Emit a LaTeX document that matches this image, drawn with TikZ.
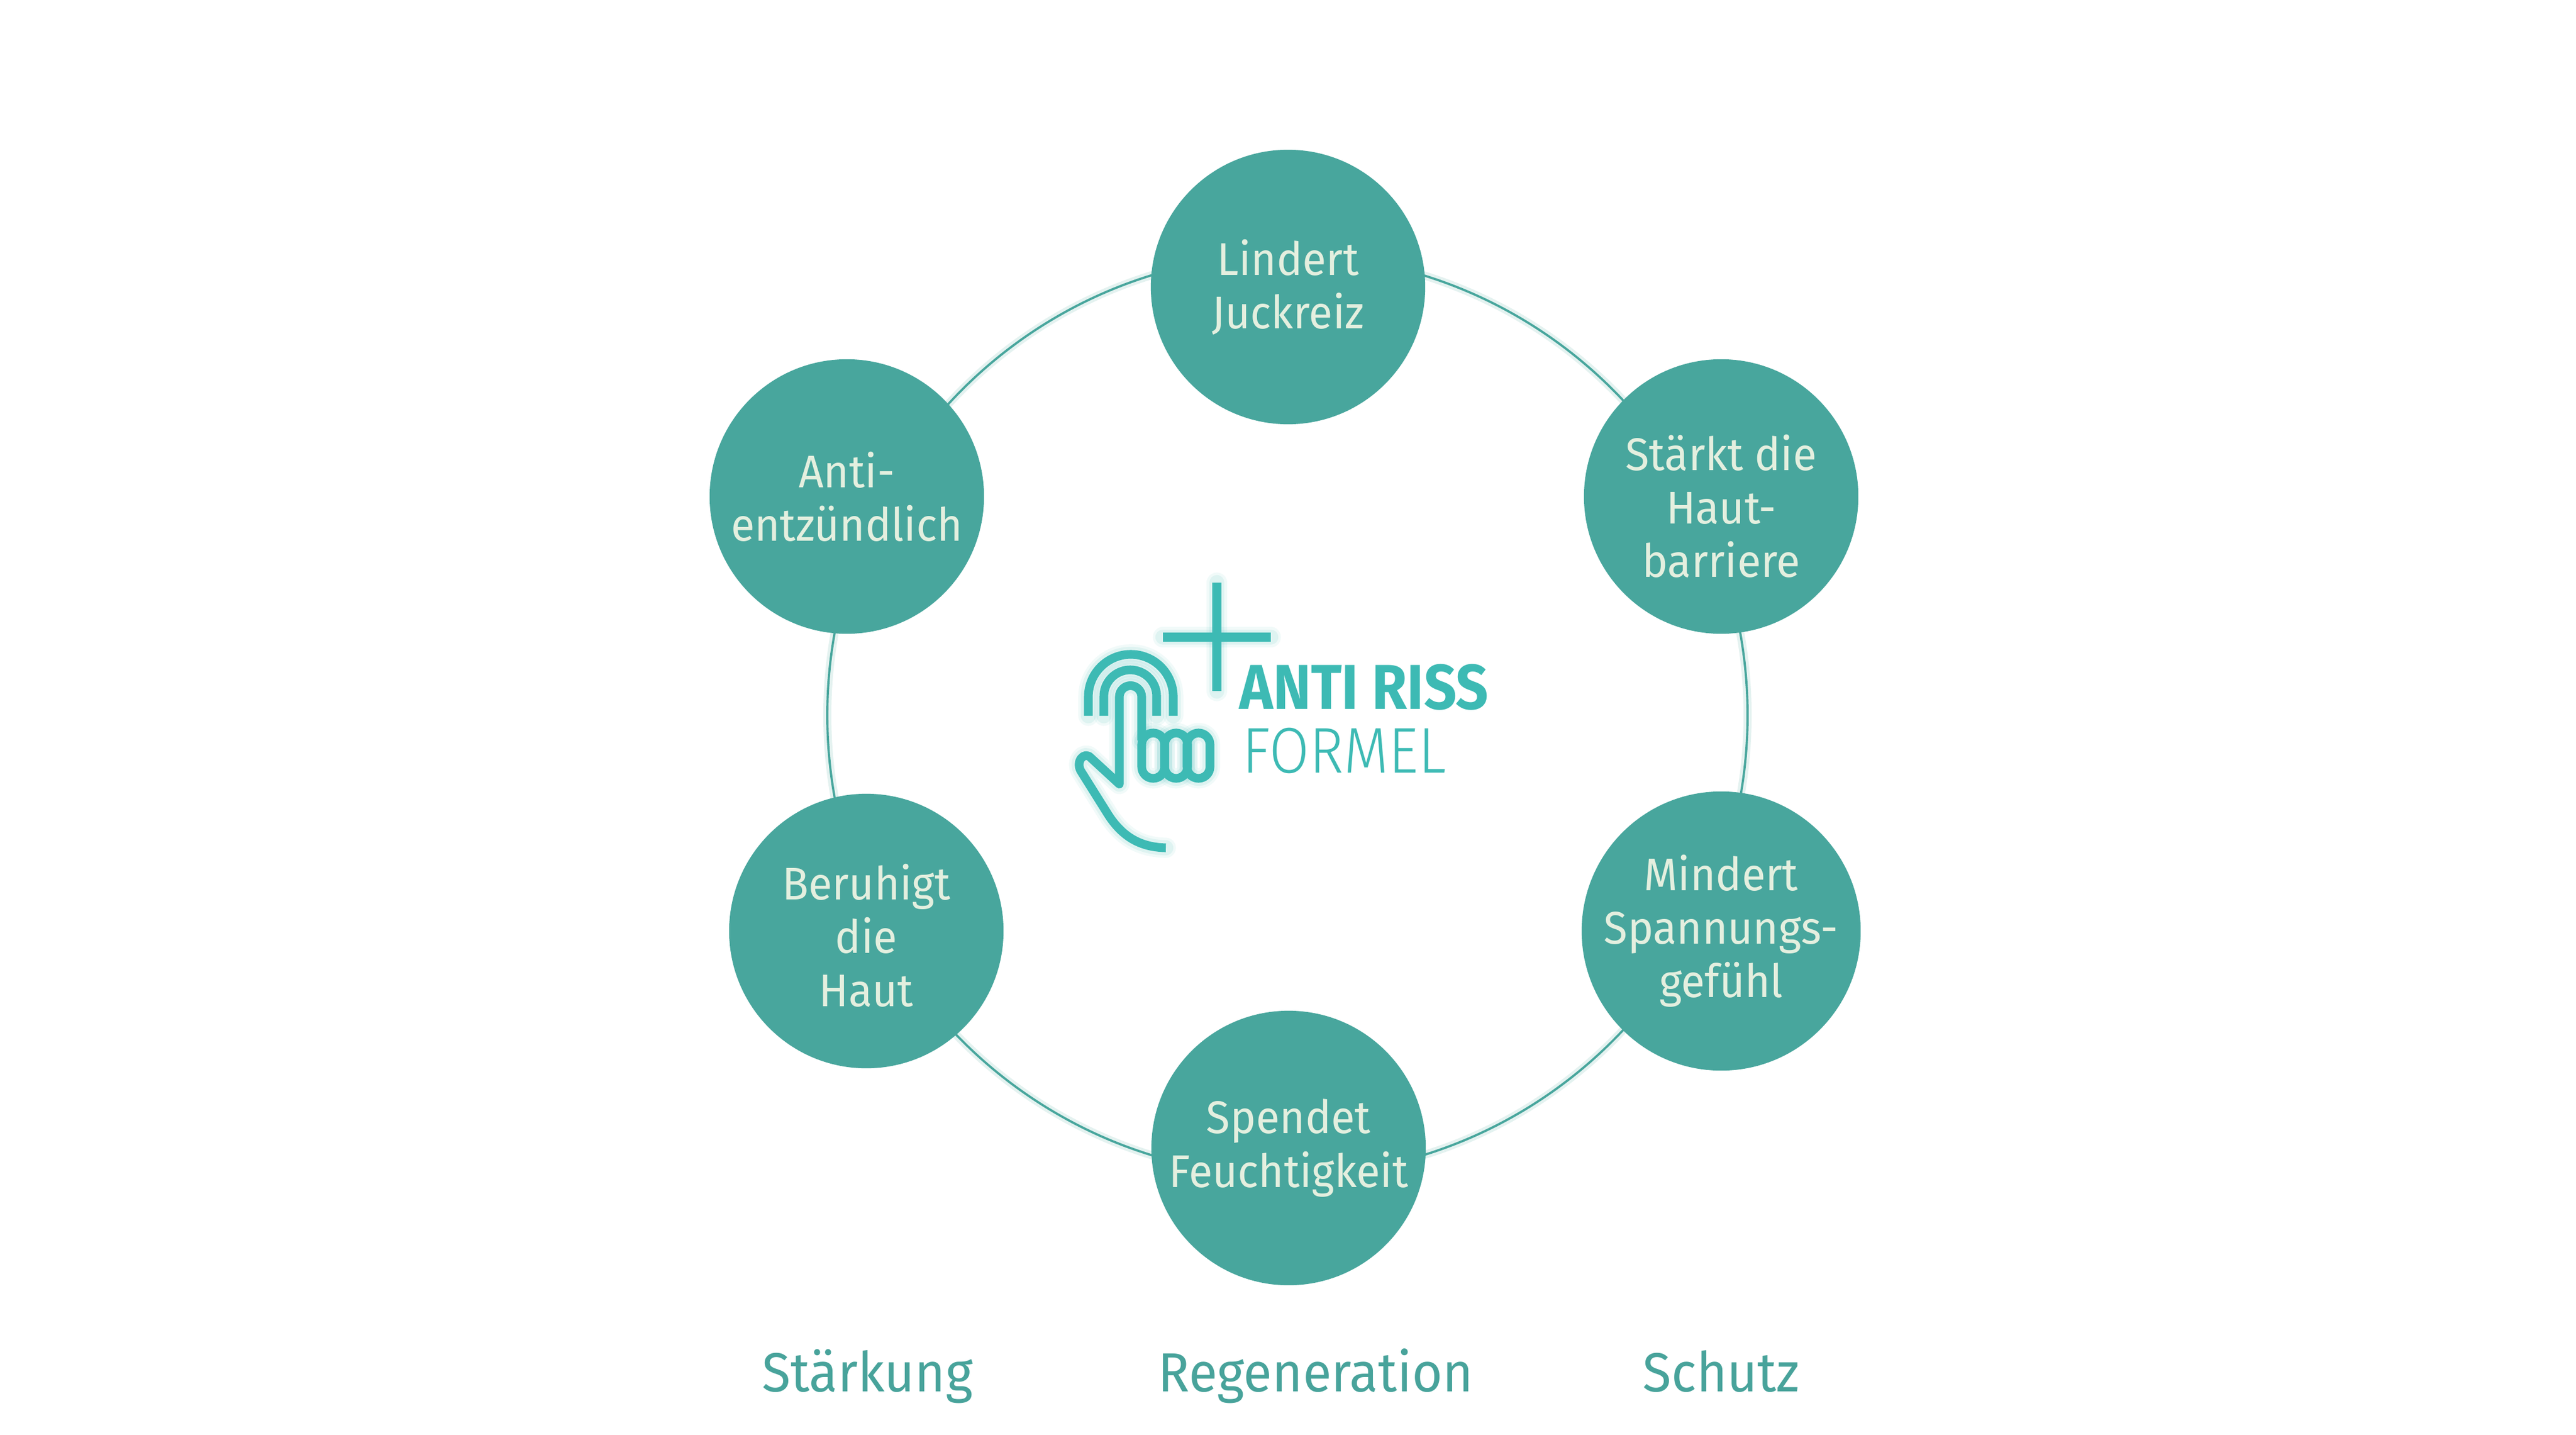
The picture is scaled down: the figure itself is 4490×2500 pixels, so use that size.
\documentclass[tikz,border=0pt]{standalone}
\usepackage{fontspec}
\setmainfont{Fira Sans}
\newfontfamily\circfont{Fira Sans}[FakeStretch=0.95]
\newfontfamily\logobold{Fira Sans}[FakeStretch=0.9]
\newfontfamily\logolight{Fira Sans Light}[FakeStretch=0.9]
\definecolor{teal1}{HTML}{48A69D}
\definecolor{creamtxt}{HTML}{E4EFDF}
\definecolor{logoc}{HTML}{3DBAB4}
\definecolor{labelc}{HTML}{48A39B}
\tikzset{
  bubble/.style={circle, fill=teal1, minimum size=4.78cm, inner sep=0pt, text=creamtxt, align=center,
    font=\circfont\fontsize{22.7}{26.5}\selectfont},
  bubbletext/.style={inner sep=0pt, text=creamtxt, align=center,
    font=\circfont\fontsize{22.7}{26.5}\selectfont},
  grouplabel/.style={text=labelc, anchor=base, inner sep=0pt, font=\circfont\fontsize{27.3}{32}\selectfont},
  logoline/.style={draw=logoc, line width=4.3pt, line cap=butt, line join=round},
  glowa/.style={draw=logoc, draw opacity=0.07, line width=10pt, line cap=round, line join=round},
  glowb/.style={draw=logoc, draw opacity=0.10, line width=7.5pt, line cap=round, line join=round},
  ringglow/.style={draw=teal1!15, line width=4pt},
  ring/.style={draw=teal1, line width=1.1pt}
}
\begin{document}
\begin{tikzpicture}[x=0.01cm, y=-0.01cm]
\useasboundingbox[fill=white] (0,0) rectangle (4490,2500);
% ring
\coordinate (ringc) at (2244,1246);
\draw[ringglow] (ringc) circle[radius=802];
\draw[ring] (ringc) circle[radius=802];
% bubbles
\node[bubble] (lindert) at (2245,500) {Lindert\\Juckreiz};
\node[bubble] (staerkt) at (3000,865) {};
\node[bubbletext] (staerkttext) at ([yshift=-0.17cm]staerkt.center) {Stärkt die\\Haut-\\barriere};
\node[bubble] (mindert) at (3000,1622) {Mindert\\Spannungs-\\gefühl};
\node[bubble] (spendet) at (2246,2000) {Spendet\\Feuchtigkeit};
\node[bubble] (beruhigt) at (1510,1622) {};
\node[bubbletext] (beruhigttext) at ([yshift=-0.08cm]beruhigt.center) {Beruhigt\\die\\Haut};
\node[bubble] (anti) at (1476,865) {Anti-\\entzündlich};
% group labels
\node[grouplabel] (staerkung) at (1512,2424) {Stärkung};
\node[grouplabel] (regen) at (2293,2424) {Regeneration};
\node[grouplabel] (schutz) at (3000,2424) {Schutz};
% logo
\foreach \sty in {glowa,glowb,logoline}{
  % plus
  \draw[\sty] (2121,1015) -- (2121,1204);
  \draw[\sty] (2027,1110) -- (2215,1110);
  % fingerprint arcs
  \draw[\sty] (1897,1247) -- (1897,1214) arc[start angle=180,end angle=360,radius=74] -- (2045,1247);
  \draw[\sty] (1924,1247) -- (1924,1213) arc[start angle=180,end angle=360,radius=46] -- (2016,1247);
  % finger and thumb
  \draw[\sty] (2032,1477) .. controls (1990,1476) and (1958,1460) .. (1932,1420)
     -- (1885,1345) .. controls (1873,1327) and (1890,1308) .. (1901,1320)
     -- (1951,1366) -- (1951,1214) arc[start angle=180,end angle=360,radius=19.5] -- (1990,1290);
  % knuckles
  \foreach \kx in {2010,2050,2089}{
    \draw[\sty] (\kx-20,1297) arc[start angle=180,end angle=360,radius=20] -- (\kx+20,1336)
      arc[start angle=0,end angle=180,radius=20] -- cycle;
  }
}
\node[anchor=base west, inner sep=0pt, text=logoc, font=\logobold\bfseries\fontsize{31.4}{36}\selectfont] (antiriss) at (2160,1235) {ANTI RISS};
\node[anchor=base west, inner sep=0pt, text=logoc, font=\logolight\fontsize{32}{36}\selectfont] (formel) at (2165,1346) {FORMEL};
\end{tikzpicture}
\end{document}
